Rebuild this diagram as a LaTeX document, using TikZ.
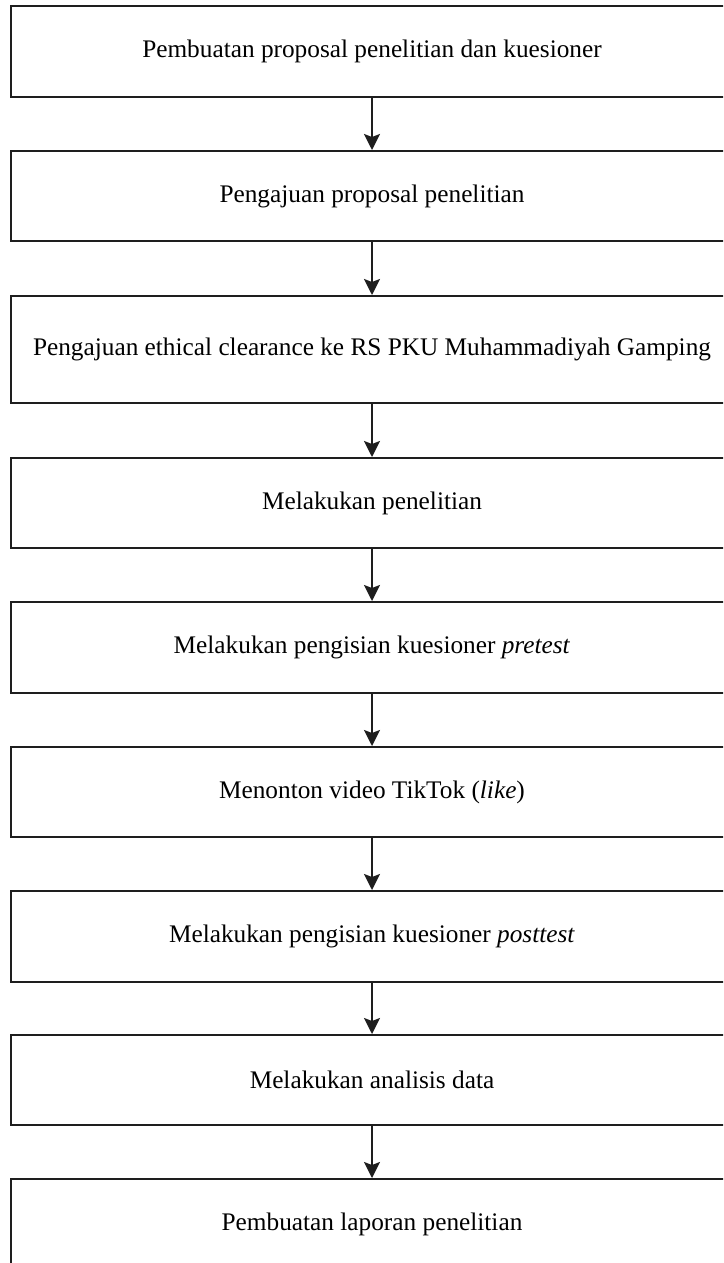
\documentclass[tikz,border=0pt]{standalone}
\usepackage{fontspec}
\setmainfont{Liberation Serif}
\usetikzlibrary{arrows.meta}
\definecolor{ink}{HTML}{1E1E1E}
\begin{document}
\begin{tikzpicture}[x=1pt,y=1pt,
  stepbox/.style={draw=ink, line width=2pt, minimum width=722pt, inner sep=0pt,
    font=\fontsize{25.3}{29}\selectfont, text=black},
  flow/.style={draw=ink, line width=2pt,
    -{Stealth[length=16pt,width=16pt,inset=3pt]}}]
  \useasboundingbox (0,0) rectangle (723,-1263);
  \clip (0,0) rectangle (723,-1263);
  \fill[white] (0,0) rectangle (723,-1263);
  % process steps, top to bottom
  \node[stepbox, minimum height=91pt]  (s1) at (372,-51.5)  {Pembuatan proposal penelitian dan kuesioner};
  \node[stepbox, minimum height=90pt]  (s2) at (372,-196)   {Pengajuan proposal penelitian};
  \node[stepbox, minimum height=107pt] (s3) at (372,-349.5) {Pengajuan ethical clearance ke RS PKU Muhammadiyah Gamping};
  \node[stepbox, minimum height=90pt]  (s4) at (372,-503)   {Melakukan penelitian};
  \node[stepbox, minimum height=91pt]  (s5) at (372,-647.5) {Melakukan pengisian kuesioner \textit{pretest}};
  \node[stepbox, minimum height=90pt]  (s6) at (372,-792)   {Menonton video TikTok (\textit{like})};
  \node[stepbox, minimum height=91pt]  (s7) at (372,-936.5) {Melakukan pengisian kuesioner \textit{posttest}};
  \node[stepbox, minimum height=90pt]  (s8) at (372,-1080)  {Melakukan analisis data};
  \node[stepbox, minimum height=90pt]  (s9) at (372,-1224)  {Pembuatan laporan penelitian};
  % connectors
  \foreach \a/\b in {s1/s2,s2/s3,s3/s4,s4/s5,s5/s6,s6/s7,s7/s8,s8/s9}
    \draw[flow] (\a.south) -- (\b.north);
\end{tikzpicture}
\end{document}
